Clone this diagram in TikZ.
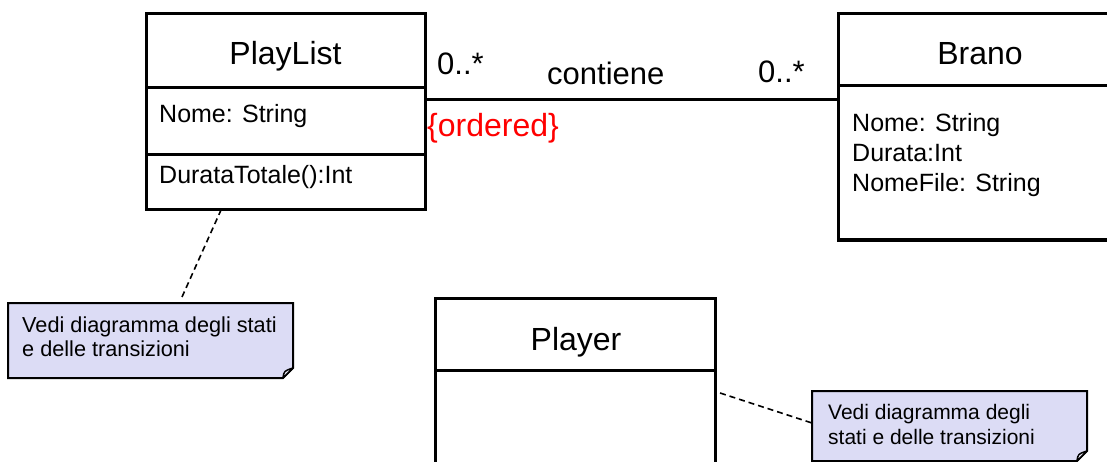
\documentclass[tikz,border=0pt]{standalone}
\usepackage{fontspec}
\setmainfont{Liberation Sans}
\usetikzlibrary{calc}
\definecolor{notefill}{RGB}{220,220,245}
\definecolor{foldfill}{RGB}{240,240,252}
\definecolor{ordred}{RGB}{255,0,0}
\begin{document}
\begin{tikzpicture}[x=1pt,y=-1pt,
  comp/.style={draw, line width=3pt, rectangle, anchor=north west, inner sep=0pt, outer sep=0pt},
  ttl/.style={anchor=base, font=\fontsize{32}{38}\selectfont, inner sep=0pt},
  attr/.style={anchor=base west, font=\fontsize{25}{30}\selectfont, inner sep=0pt},
  lbl/.style={anchor=base west, font=\fontsize{31}{36}\selectfont, inner sep=0pt},
  notetxt/.style={anchor=base west, font=\fontsize{21}{24}\selectfont, inner sep=0pt},
  noteframe/.style={inner sep=0pt, outer sep=0pt, anchor=north west},
  noteshape/.style={draw, line width=2pt, fill=notefill, line join=miter},
  foldshape/.style={draw, line width=1.5pt, fill=foldfill, line join=round},
  link/.style={draw, line width=3pt},
  anchorline/.style={draw, line width=1.6pt, dash pattern=on 6pt off 4pt},
]
\useasboundingbox (0,0) rectangle (1107,462);
\clip (0,0) rectangle (1107,462);
\fill[white] (0,0) rectangle (1107,462);

% PlayList
\node[comp, minimum width=279pt, minimum height=74pt] (plh) at (146,14) {};
\node[comp, minimum width=279pt, minimum height=67pt] (pla) at (146,88) {};
\node[comp, minimum width=279pt, minimum height=55pt] (plo) at (146,155) {};
\node[ttl] (tpl) at (285.5,65) {PlayList};
\node[attr] (pla1) at (159,123) {Nome: String};
\node[attr] (plo1) at (159,184) {DurataTotale():Int};

% Brano
\node[comp, minimum width=300pt, minimum height=72pt] (brh) at (838,14) {};
\node[comp, minimum width=300pt, minimum height=154pt] (bra) at (838,86) {};
\node[ttl] (tbr) at (980,65) {Brano};
\node[attr] (bra1) at (852,132) {Nome: String};
\node[attr] (bra2) at (852,162) {Durata:Int};
\node[attr] (bra3) at (852,192) {NomeFile: String};

% Player
\node[comp, minimum width=280pt, minimum height=72pt] (plyh) at (435,298) {};
\node[comp, minimum width=280pt, minimum height=150pt] (plya) at (435,370) {};
\node[ttl] (tply) at (576,350) {Player};

% Association
\coordinate (e1) at ($(pla.north east)+(0,12)$);
\coordinate (e2) at ($(bra.north west)+(0,14)$);
\draw[link] (e1) -- (e2);
\node[lbl] (m1) at (437,75) {0..*};
\node[lbl] (an) at (547,85) {contiene};
\node[lbl] (m2) at (758,83) {0..*};
\node[lbl, text=ordred, font=\fontsize{32}{38}\selectfont] (ord) at (427,137) {\{ordered\}};

% Note 1
\node[noteframe, minimum width=285pt, minimum height=75pt] (n1) at (8,303) {};
\draw[noteshape] (n1.north west) -- (n1.north east) -- ($(n1.south east)+(0,-10)$) -- ($(n1.south east)+(-10,0)$) -- (n1.south west) -- cycle;
\draw[foldshape] ($(n1.south east)+(-10,0)$) .. controls ($(n1.south east)+(-9,-7)$) .. ($(n1.south east)+(0,-10)$) -- cycle;
\node[notetxt, font=\fontsize{21.7}{24}\selectfont] (n1a) at (22,332) {Vedi diagramma degli stati};
\node[notetxt, font=\fontsize{21.7}{24}\selectfont] (n1b) at (22,356) {e delle transizioni};

% Note 2
\node[noteframe, minimum width=275pt, minimum height=70pt] (n2) at (812,391) {};
\draw[noteshape] (n2.north west) -- (n2.north east) -- ($(n2.south east)+(0,-10)$) -- ($(n2.south east)+(-10,0)$) -- (n2.south west) -- cycle;
\draw[foldshape] ($(n2.south east)+(-10,0)$) .. controls ($(n2.south east)+(-9,-7)$) .. ($(n2.south east)+(0,-10)$) -- cycle;
\node[notetxt] (n2a) at (828,419) {Vedi diagramma degli};
\node[notetxt] (n2b) at (828,444) {stati e delle transizioni};

% Note anchors
\draw[anchorline] ($(n1.north west)+(174,-6)$) -- ($(plo.south west)+(75,0)$);
\draw[anchorline] ($(plya.north east)+(5,23)$) -- ($(n2.north west)+(0,32)$);
\end{tikzpicture}
\end{document}
